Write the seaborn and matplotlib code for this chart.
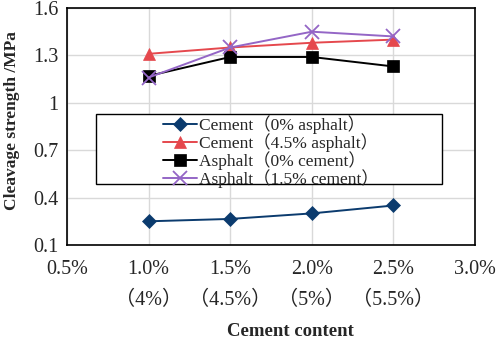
import matplotlib
matplotlib.use("Agg")
import matplotlib.pyplot as plt
from matplotlib.patches import Rectangle
import numpy as np
import pandas as pd
import seaborn as sns

# data
content = [1.0, 1.5, 2.0, 2.5]
cement_0_asphalt = [0.25, 0.265, 0.30, 0.35]
cement_45_asphalt = [1.31, 1.35, 1.38, 1.40]
asphalt_0_cement = [1.17, 1.29, 1.29, 1.23]
asphalt_15_cement = [1.16, 1.35, 1.45, 1.42]

series_names = ['Cement（0% asphalt）', 'Cement（4.5% asphalt）',
                'Asphalt（0% cement）', 'Asphalt（1.5% cement）']
xtick_vals = [0.5, 1.0, 1.5, 2.0, 2.5, 3.0]
xtick_labels = ['0.5%', '1.0%\n（4%）', '1.5%\n（4.5%）', '2.0%\n（5%）',
                '2.5%\n（5.5%）', '3.0%']
ytick_vals = [0.1, 0.4, 0.7, 1.0, 1.3, 1.6]
ytick_labels = ['0.1', '0.4', '0.7', '1', '1.3', '1.6']

# styling
colors = ['#0B3B6E', '#E5484D', '#000000', '#9466C6']
markers = ['D', '^', 's', 'x']
msizes = [7.5, 9, 8.5, 10]

sns.set_style("white")
plt.rcParams['font.family'] = ['Liberation Serif', 'Noto Sans CJK SC']

W, H = 498, 339
fig = plt.figure(figsize=(W/100, H/100), dpi=100)
ax = fig.add_axes([67/W, 1-245/H, (475-67)/W, (245-8)/H])

values = [cement_0_asphalt, cement_45_asphalt, asphalt_0_cement, asphalt_15_cement]
for name, vals, c, m, ms in zip(series_names, values, colors, markers, msizes):
    df = pd.DataFrame({'x': content, 'y': vals})
    sns.lineplot(data=df, x='x', y='y', ax=ax, color=c, marker=m,
                 markersize=ms, linewidth=1.4, label=name,
                 markeredgecolor=c, markeredgewidth=1.3 if m == 'x' else 0.5)

ax.set_xlim(0.5, 3.0)
ax.set_ylim(0.1, 1.6)
ax.set_xticks(xtick_vals)
ax.set_xticklabels(xtick_labels, fontsize=14.5, linespacing=1.8)
ax.set_yticks(ytick_vals)
ax.set_yticklabels(ytick_labels, fontsize=14.5)
ax.tick_params(axis='x', length=0, pad=11)
ax.tick_params(axis='y', length=0, pad=6)
ax.grid(True, color='#D9D9D9', linewidth=1)
for s in ax.spines.values():
    s.set_color('black')
    s.set_linewidth(1.2)

ax.set_xlabel('Cement content', fontsize=13.5, fontweight='bold', va='center')
ax.set_ylabel('Cleavage strength /MPa', fontsize=12.5, fontweight='bold', va='center')
ax.xaxis.set_label_coords((290-67)/408, (245-332)/237)
ax.yaxis.set_label_coords((12-67)/408, (245-121)/237)

# legend box is much wider than its entries in the reference
box = Rectangle((96/W, 1-184/H), (442-96)/W, (184-114)/H,
                transform=fig.transFigure, facecolor='white',
                edgecolor='black', linewidth=1.0, zorder=4)
ax.add_artist(box)
leg = ax.legend(loc='upper left', bbox_to_anchor=(163/W, 1-115/H),
                bbox_transform=fig.transFigure, frameon=False,
                fontsize=12.5, borderpad=0, borderaxespad=0, labelspacing=-0.05,
                handlelength=1.95, handletextpad=0.1)
leg.set_zorder(6)

fig.savefig('out.png', dpi=100)
